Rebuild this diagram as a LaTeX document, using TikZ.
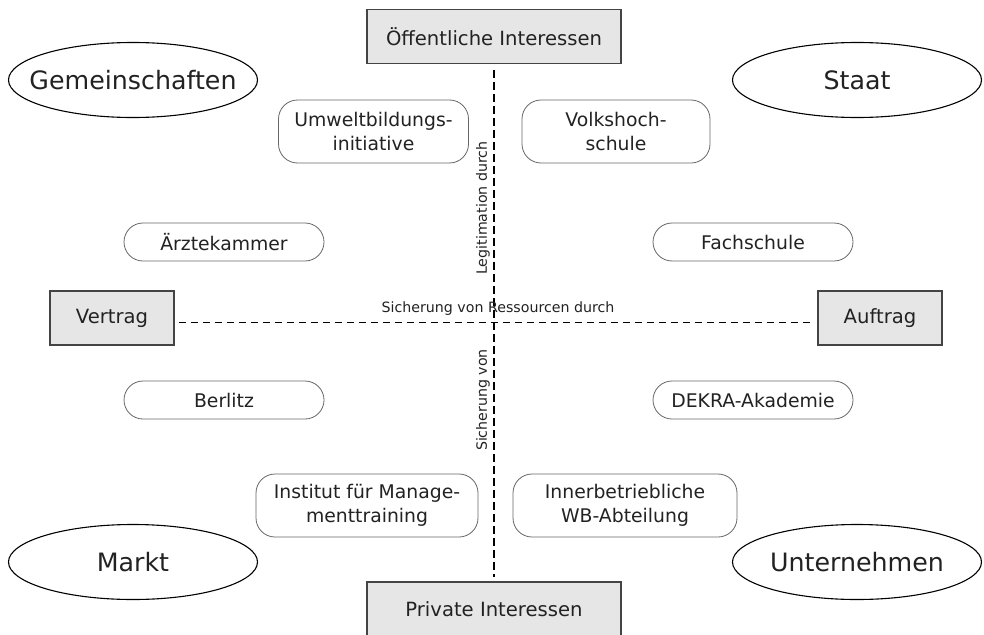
\documentclass[tikz,border=0pt]{standalone}
\usepackage{fontspec}
\setmainfont{DejaVu Sans}
\usetikzlibrary{shapes.geometric}
\definecolor{boxfill}{HTML}{E6E6E6}
\definecolor{boxdraw}{HTML}{444444}
\definecolor{rbdraw}{HTML}{666666}
\definecolor{txt}{HTML}{222222}
\tikzset{
  sqbox/.style={draw=boxdraw, fill=boxfill, line width=1.2pt, minimum height=54pt, inner sep=0pt, text=txt, font=\fontsize{19.6}{23}\selectfont},
  ellbox/.style={draw=black, ellipse, line width=1.1pt, minimum width=249pt, minimum height=75pt, inner xsep=-40pt, inner ysep=0pt, text=txt, font=\fontsize{25.3}{28}\selectfont},
  rbox/.style={draw=rbdraw, rounded corners=19pt, line width=0.8pt, inner sep=0pt, text=txt, align=center, font=\fontsize{18.8}{24.5}\selectfont},
  dashline/.style={line width=1.8pt, dash pattern=on 7.5pt off 4.5pt, black},
  axlabel/.style={text=txt, font=\fontsize{14.2}{16}\selectfont, inner sep=0pt}
}
\begin{document}
\begin{tikzpicture}[x=1pt,y=-1pt]
\useasboundingbox (0,0) rectangle (984,634);
% square boxes
\node[sqbox, minimum width=254pt] (top) at (494,36.5) {Öffentliche Interessen};
\node[sqbox, minimum width=254pt] (bot) at (494,609) {Private Interessen};
\node[sqbox, minimum width=124pt] (vertrag) at (112,318) {Vertrag};
\node[sqbox, minimum width=124pt] (auftrag) at (880,318) {Auftrag};
% ellipses
\node[ellbox] (gem) at (133,80) {Gemeinschaften};
\node[ellbox] (staat) at (857,80) {Staat};
\node[ellbox] (markt) at (133,562) {Markt};
\node[ellbox] (unt) at (857,562) {Unternehmen};
% rounded boxes
\node[rbox, minimum width=190pt, minimum height=63pt] (umw) at (373.5,131.5) {Umweltbildungs-\\initiative};
\node[rbox, minimum width=188pt, minimum height=63pt] (vhs) at (616,131.5) {Volkshoch-\\schule};
\node[rbox, minimum width=200pt, minimum height=38pt] (aerzte) at (224,242) {Ärztekammer};
\node[rbox, minimum width=200pt, minimum height=38pt] (fach) at (753,242) {Fachschule};
\node[rbox, minimum width=200pt, minimum height=38pt] (berlitz) at (224,400) {Berlitz};
\node[rbox, minimum width=200pt, minimum height=38pt] (dekra) at (753,400) {DEKRA-Akademie};
\node[rbox, minimum width=222pt, minimum height=63pt] (inst) at (367,505.5) {Institut für Manage-\\menttraining};
\node[rbox, minimum width=224pt, minimum height=63pt] (inner) at (625,505.5) {Innerbetriebliche\\WB-Abteilung};
% axes
\draw[dashline] ([yshift=-6pt]top.south) -- ([yshift=4pt]bot.north);
\draw[dashline] ([xshift=4pt,yshift=-4.5pt]vertrag.east) -- ([xshift=-4pt,yshift=-4.5pt]auftrag.west);
% axis labels
\node[axlabel, rotate=90] (legit) at (483,208) {Legitimation durch};
\node[axlabel, rotate=90] (sichv) at (483,400) {Sicherung von};
\node[axlabel] (sichr) at (498,309) {Sicherung von Ressourcen durch};
\end{tikzpicture}
\end{document}
